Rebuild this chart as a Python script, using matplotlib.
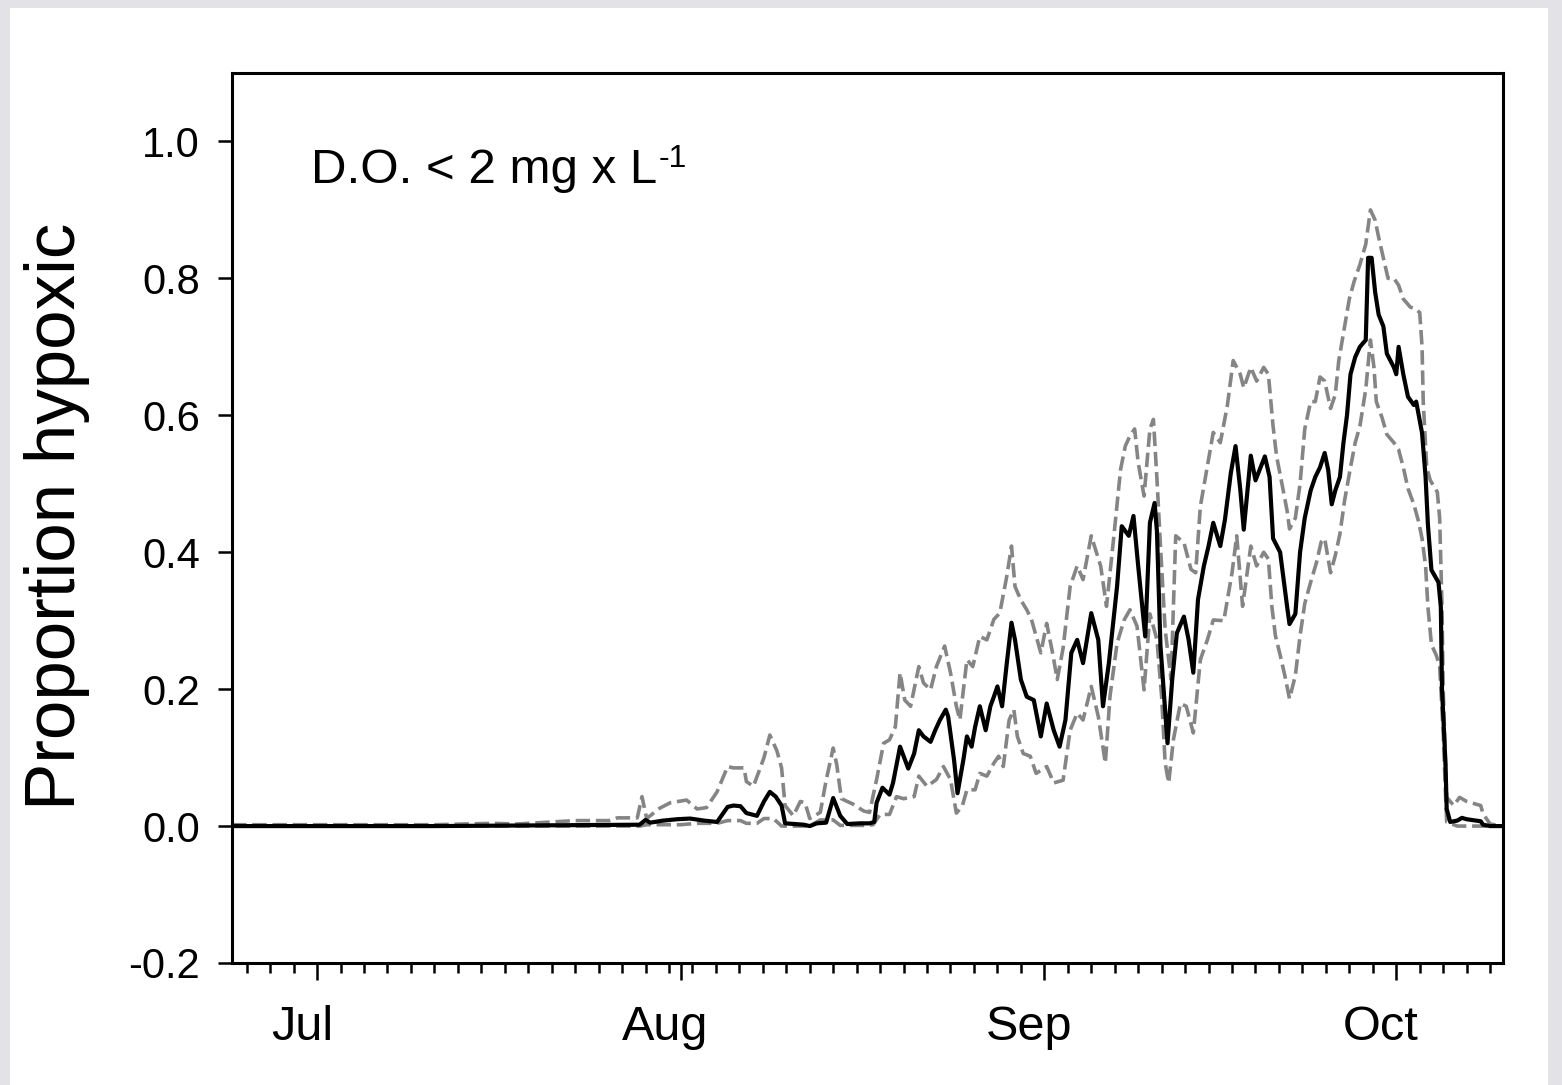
import numpy as np
import matplotlib.pyplot as plt
import matplotlib.transforms as mtransforms
from matplotlib.patches import Rectangle

plt.rcParams['font.family'] = ['Liberation Sans', 'DejaVu Sans']
plt.rcParams['axes.unicode_minus'] = False

# days since Jul 1
mean_day = [-7.25, 10, 24.1, 27.5, 28.0, 28.4, 29.5, 30.7, 31.8, 33.0, 34.1, 35.0, 35.5, 36.1,
            36.6, 37.5, 38.1, 38.6, 39.1, 39.6, 39.9, 41.5, 42.0, 42.6, 43.4, 44.0, 44.6, 45.2,
            46.3, 47.1, 47.5, 47.7, 48.2, 48.8, 49.1, 49.7, 50.4, 50.9, 51.3, 51.7, 52.3, 52.7,
            53.1, 53.6, 53.8, 54.3, 54.6, 55.1, 55.4, 55.8, 56.1, 56.5, 57.0, 57.4, 57.7, 58.0,
            58.4, 58.8, 59.2, 59.5, 60.0, 60.5, 61.1, 61.7, 62.2, 62.8, 63.3, 63.8, 64.3, 64.8,
            65.3, 66.0, 66.6, 67.0, 67.5, 68.2, 68.6, 69.2, 69.6, 70.0, 70.6, 71.0, 71.4, 71.6,
            71.9, 72.5, 72.9, 73.3, 73.9, 74.3, 74.7, 75.1, 75.6, 76.0, 76.4, 77.0, 77.4, 77.9,
            78.3, 78.7, 79.0, 79.6, 80.0, 80.8, 81.2, 81.5, 82.1, 82.7, 82.9, 83.4, 83.8, 84.2,
            84.7, 85.1, 85.5, 85.9, 86.2, 86.5, 86.8, 87.2, 87.5, 87.8, 88.1, 88.5, 88.9, 89.4,
            89.6, 89.9, 90.2, 90.5, 90.9, 91.2, 91.8, 92.0, 92.2, 92.6, 93.0, 93.5, 93.7, 94.2,
            94.5, 94.7, 95.0, 95.6, 95.8, 95.9, 96.2, 96.3, 96.6, 97.2, 97.6, 98.0, 99.2, 99.4,
            100.0, 101.1]
mean_val = [0.0, 0.0, 0.0015, 0.002, 0.009, 0.005, 0.008, 0.010, 0.011, 0.008, 0.006, 0.028, 0.030, 0.029,
            0.019, 0.015, 0.036, 0.050, 0.043, 0.030, 0.004, 0.002, 0.0, 0.004, 0.005, 0.041, 0.015, 0.003,
            0.004, 0.004, 0.006, 0.034, 0.056, 0.046, 0.063, 0.116, 0.084, 0.106, 0.140, 0.131, 0.123, 0.140,
            0.155, 0.170, 0.160, 0.097, 0.048, 0.097, 0.131, 0.116, 0.145, 0.175, 0.140, 0.175, 0.189, 0.204,
            0.175, 0.238, 0.297, 0.272, 0.214, 0.189, 0.184, 0.131, 0.179, 0.140, 0.116, 0.155, 0.253, 0.272,
            0.238, 0.311, 0.272, 0.175, 0.238, 0.350, 0.438, 0.424, 0.453, 0.380, 0.277, 0.443, 0.472, 0.430,
            0.263, 0.121, 0.214, 0.282, 0.306, 0.272, 0.224, 0.331, 0.380, 0.409, 0.443, 0.409, 0.448, 0.516,
            0.555, 0.492, 0.433, 0.541, 0.505, 0.540, 0.510, 0.420, 0.400, 0.320, 0.295, 0.310, 0.400, 0.450,
            0.490, 0.510, 0.524, 0.545, 0.520, 0.470, 0.490, 0.510, 0.560, 0.600, 0.660, 0.685, 0.700, 0.710,
            0.830, 0.830, 0.780, 0.747, 0.730, 0.690, 0.670, 0.660, 0.700, 0.660, 0.627, 0.615, 0.620, 0.574,
            0.510, 0.440, 0.374, 0.356, 0.320, 0.200, 0.090, 0.025, 0.006, 0.008, 0.012, 0.010, 0.007, 0.002,
            0.0, 0.0]

upper_day = [-7.25, 10, 15, 17, 20, 22, 24.1, 24.9, 25.6, 27.3, 27.7, 28.1, 29.2, 30.1, 31.5, 32.4,
             33.2, 34.1, 35.0, 35.5, 36.4, 36.6, 37.2, 38.1, 38.6, 39.2, 39.6, 39.9, 40.6, 41.2,
             41.6, 42.0, 42.9, 43.4, 44.0, 44.3, 44.7, 45.7, 46.6, 47.1, 47.7, 48.3, 48.8, 49.3,
             49.7, 50.1, 50.6, 51.3, 51.7, 52.3, 52.8, 53.5, 54.0, 54.5, 54.8, 55.4, 55.9, 56.5,
             57.1, 57.7, 58.2, 58.8, 59.2, 59.5, 60.0, 60.5, 60.9, 61.7, 62.2, 62.7, 63.1, 63.6,
             64.2, 64.8, 65.3, 66.0, 66.8, 67.3, 67.9, 68.5, 68.9, 69.3, 69.7, 70.0, 70.5, 71.0,
             71.3, 71.6, 71.9, 72.3, 72.8, 73.2, 73.9, 74.5, 74.9, 75.3, 75.9, 76.4, 77.0, 77.6,
             78.1, 78.7, 79.0, 79.6, 80.1, 80.7, 81.1, 81.5, 81.8, 82.2, 82.7, 82.9, 83.4, 83.8,
             84.2, 84.7, 85.1, 85.5, 85.9, 86.4, 86.8, 87.1, 87.5, 88.0, 88.4, 88.9, 89.4, 89.8,
             90.2, 90.5, 90.9, 91.3, 91.8, 92.2, 92.6, 93.2, 93.7, 94.0, 94.2, 94.3, 94.6, 94.9,
             95.5, 95.7, 95.9, 96.0, 96.2, 96.3, 96.9, 97.4, 98.0, 99.2, 99.4, 100.0, 101.1]
upper_val = [0.002, 0.002, 0.004, 0.003, 0.006, 0.008, 0.008, 0.008, 0.012, 0.012, 0.043, 0.011, 0.026, 0.034, 0.038, 0.025,
             0.027, 0.050, 0.087, 0.085, 0.085, 0.065, 0.058, 0.100, 0.133, 0.110, 0.085, 0.030, 0.015, 0.036,
             0.034, 0.011, 0.020, 0.067, 0.114, 0.090, 0.040, 0.032, 0.022, 0.020, 0.068, 0.121, 0.126, 0.145,
             0.224, 0.184, 0.175, 0.233, 0.209, 0.199, 0.233, 0.263, 0.224, 0.175, 0.155, 0.243, 0.233, 0.277,
             0.272, 0.302, 0.311, 0.365, 0.409, 0.350, 0.330, 0.316, 0.302, 0.253, 0.296, 0.253, 0.214, 0.260,
             0.350, 0.380, 0.360, 0.424, 0.380, 0.321, 0.419, 0.521, 0.555, 0.570, 0.580, 0.531, 0.482, 0.580,
             0.594, 0.507, 0.409, 0.287, 0.214, 0.424, 0.414, 0.375, 0.370, 0.467, 0.526, 0.575, 0.560, 0.614,
             0.680, 0.660, 0.640, 0.670, 0.650, 0.670, 0.660, 0.584, 0.540, 0.505, 0.460, 0.434, 0.450, 0.500,
             0.580, 0.620, 0.620, 0.656, 0.650, 0.610, 0.630, 0.680, 0.720, 0.770, 0.795, 0.820, 0.850, 0.900,
             0.885, 0.860, 0.830, 0.800, 0.800, 0.790, 0.770, 0.758, 0.755, 0.750, 0.700, 0.620, 0.524, 0.505,
             0.488, 0.450, 0.320, 0.200, 0.090, 0.042, 0.030, 0.042, 0.036, 0.030, 0.018, 0.003, 0.0]

lower_day = [-7.25, 24.1, 27.5, 28.1, 31.0, 32.4, 34.1, 35.0, 36.1, 36.6, 37.5, 38.1, 38.9, 39.6,
             42.0, 42.9, 44.0, 44.6, 46.9, 47.4, 48.0, 48.8, 49.4, 50.0, 50.9, 51.3, 52.0, 52.8,
             53.4, 54.0, 54.5, 55.0, 55.4, 56.1, 56.5, 57.1, 57.7, 58.1, 58.5, 59.0, 59.4, 59.7,
             60.2, 60.8, 61.3, 62.2, 62.8, 63.6, 64.2, 64.8, 65.3, 66.0, 66.6, 67.2, 67.6, 68.2,
             68.8, 69.3, 69.9, 70.5, 71.0, 71.6, 72.0, 72.3, 72.6, 73.0, 73.6, 74.1, 74.7, 75.3,
             75.9, 76.4, 77.3, 78.0, 78.4, 78.9, 79.6, 80.1, 80.7, 81.1, 81.4, 81.7, 82.1, 82.5,
             82.9, 83.4, 83.8, 84.2, 84.7, 85.2, 85.6, 85.9, 86.4, 86.8, 87.2, 87.6, 88.1, 88.5,
             88.9, 89.4, 89.8, 90.1, 90.3, 90.8, 91.2, 91.8, 92.2, 92.6, 93.0, 93.5, 93.9, 94.2,
             94.5, 94.7, 95.0, 95.4, 95.7, 96.0, 96.2, 96.3, 97.2, 101.1]
lower_val = [0.0, 0.0, 0.0, 0.002, 0.002, 0.004, 0.004, 0.008, 0.008, 0.004, 0.004, 0.011, 0.011, 0.0,
             0.0, 0.009, 0.009, 0.001, 0.001, 0.002, 0.017, 0.017, 0.043, 0.040, 0.043, 0.073, 0.058, 0.068,
             0.087, 0.068, 0.019, 0.029, 0.053, 0.053, 0.077, 0.073, 0.092, 0.102, 0.087, 0.155, 0.170, 0.131,
             0.106, 0.102, 0.077, 0.087, 0.063, 0.067, 0.140, 0.165, 0.155, 0.204, 0.160, 0.092, 0.190, 0.267,
             0.301, 0.316, 0.292, 0.199, 0.310, 0.272, 0.189, 0.092, 0.063, 0.126, 0.179, 0.175, 0.136, 0.243,
             0.272, 0.301, 0.300, 0.370, 0.424, 0.321, 0.409, 0.380, 0.400, 0.390, 0.320, 0.278, 0.250, 0.220,
             0.186, 0.220, 0.278, 0.325, 0.356, 0.385, 0.415, 0.420, 0.370, 0.395, 0.427, 0.476, 0.524, 0.560,
             0.584, 0.638, 0.710, 0.670, 0.620, 0.596, 0.572, 0.560, 0.550, 0.524, 0.493, 0.470, 0.445, 0.420,
             0.380, 0.320, 0.265, 0.250, 0.234, 0.137, 0.047, 0.006, 0.0, 0.0]

month_day = [0, 31, 62, 92]
month_lab = ['Jul', 'Aug', 'Sep', 'Oct']
ytick_val = [-0.2, 0.0, 0.2, 0.4, 0.6, 0.8, 1.0]
ytick_lab = ['-0.2', '0.0', '0.2', '0.4', '0.6', '0.8', '1.0']

W, H = 1562, 1085
fig = plt.figure(figsize=(W / 100, H / 100), dpi=100)
fig.patch.set_facecolor('#e3e3e7')
fig.add_artist(Rectangle((10 / W, 0), (1548 - 10) / W, 1 - 8 / H, transform=fig.transFigure,
                         facecolor='white', edgecolor='none', zorder=-1))

ax = fig.add_axes([232 / W, 1 - 963 / H, (1503 - 232) / W, (963 - 73) / H])

gray = '#858585'
ax.plot(upper_day, upper_val, color=gray, lw=2.6, ls=(0, (4, 1.6)))
ax.plot(lower_day, lower_val, color=gray, lw=2.6, ls=(0, (4, 1.6)))
ax.plot(mean_day, mean_val, color='black', lw=3.0)

ax.set_xlim(-7.25, 101.1)
ax.set_ylim(-0.2, 1.1)

ax.set_yticks(ytick_val)
ax.set_yticklabels(ytick_lab)
ax.set_xticks(month_day)
ax.set_xticklabels([])
ax.set_xticks(np.arange(-6, 101, 2), minor=True)

for s in ax.spines.values():
    s.set_linewidth(2.2)

ax.tick_params(axis='y', which='major', direction='out', length=10, width=1.8, pad=13, labelsize=30)
ax.tick_params(axis='x', which='major', direction='out', length=12.5, width=1.8)
ax.tick_params(axis='x', which='minor', direction='out', length=7.5, width=1.8)

trans = mtransforms.blended_transform_factory(ax.transData, ax.transAxes)
for m, lab in zip(month_day, month_lab):
    ax.text(m - 1.3, -0.073, lab, transform=trans, ha='center', va='center', fontsize=35)

t = ax.text(0.062, 0.876, 'D.O. < 2 mg x L', transform=ax.transAxes,
            ha='left', va='baseline', fontsize=35.5)
ax.annotate('-1', xy=(1, 1), xycoords=t, xytext=(1, 3), textcoords='offset points',
            ha='left', va='top', fontsize=23)

fig.text(57 / W, 1 - 516 / H, 'Proportion hypoxic', rotation=90, ha='center', va='center', fontsize=51)

fig.savefig('out.png', dpi=100, facecolor=fig.get_facecolor())
